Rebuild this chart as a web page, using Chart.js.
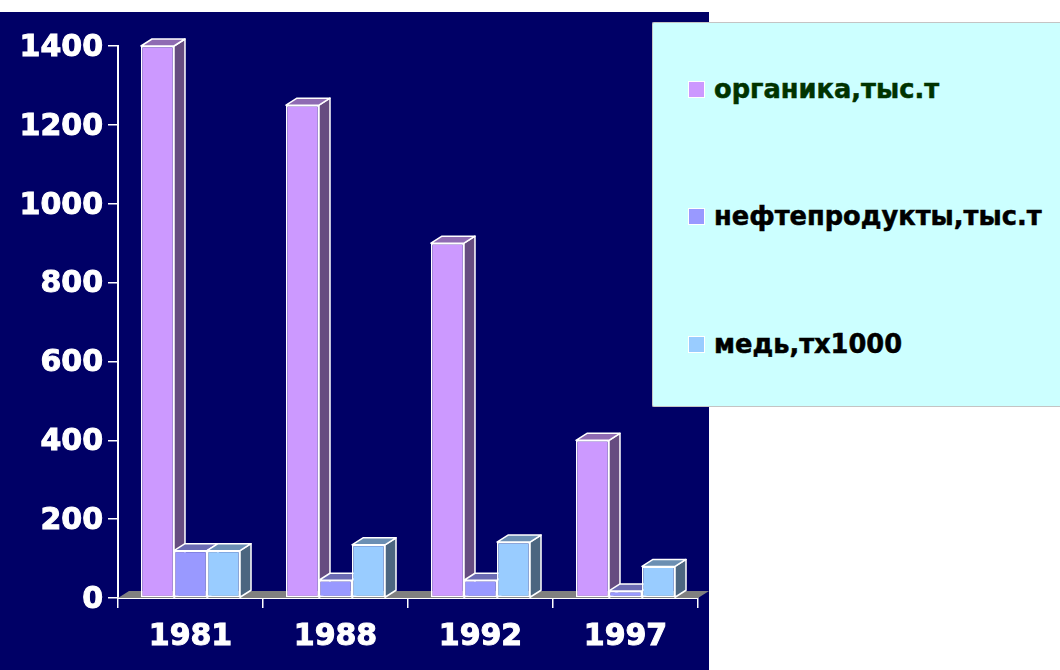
<!DOCTYPE html>
<html lang="ru">

<head>
    <meta charset="UTF-8">
    <title>Сбросы по годам</title>
    <script src="https://cdn.jsdelivr.net/npm/chart.js"></script>
    <style>
        html, body { margin: 0; padding: 0; background: #fff; }
        #wrap { position: relative; width: 1060px; height: 670px; overflow: hidden; }
        canvas { display: block; }
        #legenda {
            position: absolute; left: 652px; top: 22px; width: 408px; height: 385px;
            box-sizing: border-box; background: #ccffff;
            border: 1px solid #c4c4c4; border-right: none; border-radius: 2px 0 0 2px;
        }
        .item {
            position: absolute; left: 36px; display: flex; align-items: center;
            font: bold 25.7px "DejaVu Sans", sans-serif; white-space: nowrap;
        }
        .item i {
            width: 15px; height: 15px; margin-right: 10px;
            outline: 1px solid #fff; display: inline-block;
        }
    </style>
</head>

<body>
    <div id="wrap">
        <canvas id="grafico" width="1060" height="670"></canvas>
        <div id="legenda"></div>
    </div>

    <script>
        const anos = ["1981", "1988", "1992", "1997"];
        const organika = [1400, 1250, 900, 400];
        const nefteprodukty = [120, 45, 45, 18];
        const med = [120, 135, 142, 80];

        const nomes = ["органика,тыс.т", "нефтепродукты,тыс.т", "медь,тх1000"];
        const coresFrente = ["#cc99ff", "#9999ff", "#99ccff"];
        const coresLado = ["#664c80", "#4c4c80", "#4c6680"];
        const coresTopo = ["#8f6bb3", "#6b6bb3", "#6b8fb3"];
        const coresTexto = ["#003300", "#000000", "#000000"];
        const legendaTopo = [51, 178, 306];

        const PROF_X = 11, PROF_Y = 7;

        function poligono(ctx, pts, fill, stroke) {
            ctx.beginPath();
            pts.forEach((p, i) => i ? ctx.lineTo(p[0], p[1]) : ctx.moveTo(p[0], p[1]));
            ctx.closePath();
            ctx.fillStyle = fill;
            ctx.fill();
            if (stroke) {
                ctx.strokeStyle = stroke;
                ctx.lineWidth = 1.5;
                ctx.lineJoin = "round";
                ctx.stroke();
            }
        }

        // fundo azul, piso cinza e as faces laterais/superiores das barras
        let rotulosAjustados = false;
        const falso3d = {
            id: "falso3d",
            beforeDraw(chart) {
                chart.ctx.fillStyle = "#000066";
                chart.ctx.fillRect(0, 12, 709, 658);
                // desce um pouco os rótulos do eixo y para centrar nas marcas
                if (!rotulosAjustados) {
                    chart.scales.y.getLabelItems().forEach(item => { item.options.translation[1] += 2; });
                    rotulosAjustados = true;
                }
            },
            beforeDatasetsDraw(chart) {
                const ctx = chart.ctx;
                const a = chart.chartArea;
                poligono(ctx, [[a.left, a.bottom], [a.left + PROF_X, a.bottom - PROF_Y],
                    [a.right + PROF_X, a.bottom - PROF_Y], [a.right, a.bottom]], "#808080");

                anos.forEach((_, j) => {
                    chart.data.datasets.forEach((_, i) => {
                        const b = chart.getDatasetMeta(i).data[j];
                        const esq = b.x - b.width / 2, dir = b.x + b.width / 2;
                        poligono(ctx, [[dir, b.y], [dir + PROF_X, b.y - PROF_Y],
                            [dir + PROF_X, b.base - PROF_Y], [dir, b.base]], coresLado[i], "#ffffff");
                        poligono(ctx, [[esq, b.y], [esq + PROF_X, b.y - PROF_Y],
                            [dir + PROF_X, b.y - PROF_Y], [dir, b.y]], coresTopo[i], "#ffffff");
                    });
                });
            }
        };

        const fonteEixo = { family: "'DejaVu Sans'", weight: "bold", size: 30 };

        const grafico = new Chart(document.getElementById("grafico"), {
            type: "bar",
            data: {
                labels: anos,
                datasets: [organika, nefteprodukty, med].map((valores, i) => ({
                    label: nomes[i],
                    data: valores,
                    backgroundColor: coresFrente[i],
                    borderColor: "#ffffff",
                    borderWidth: 1.5,
                    borderSkipped: false,
                    barPercentage: 1,
                    categoryPercentage: 0.683
                }))
            },
            options: {
                responsive: false,
                animation: false,
                layout: { padding: { top: 46, right: 362, bottom: 9, left: 0 } },
                plugins: { legend: { display: false }, tooltip: { enabled: false } },
                scales: {
                    x: {
                        grid: { drawOnChartArea: false, color: "#ffffff", lineWidth: 1.5, tickLength: 10 },
                        border: { color: "#ffffff", width: 2 },
                        ticks: {
                            color: "#ffffff", font: fonteEixo, padding: 11, maxRotation: 0,
                            textStrokeColor: "#ffffff", textStrokeWidth: 1
                        },
                        afterFit(eixo) { eixo.height = 63; }
                    },
                    y: {
                        min: 0,
                        max: 1400,
                        afterFit(eixo) { eixo.width = 118; },
                        grid: { drawOnChartArea: false, color: "#ffffff", lineWidth: 1.5, tickLength: 10 },
                        border: { color: "#ffffff", width: 2 },
                        ticks: {
                            color: "#ffffff", font: fonteEixo, stepSize: 200, padding: 5,
                            textStrokeColor: "#ffffff", textStrokeWidth: 1,
                            callback: v => String(v)
                        }
                    }
                }
            },
            plugins: [falso3d]
        });

        // legenda em HTML, montada a partir das séries do gráfico
        const legenda = document.getElementById("legenda");
        grafico.data.datasets.forEach((ds, i) => {
            const item = document.createElement("div");
            item.className = "item";
            item.style.top = legendaTopo[i] + "px";
            item.style.color = coresTexto[i];
            item.style.webkitTextStroke = "0.5px " + coresTexto[i];
            item.innerHTML = '<i style="background:' + ds.backgroundColor + '"></i>' + ds.label;
            legenda.appendChild(item);
        });
    </script>
</body>

</html>
